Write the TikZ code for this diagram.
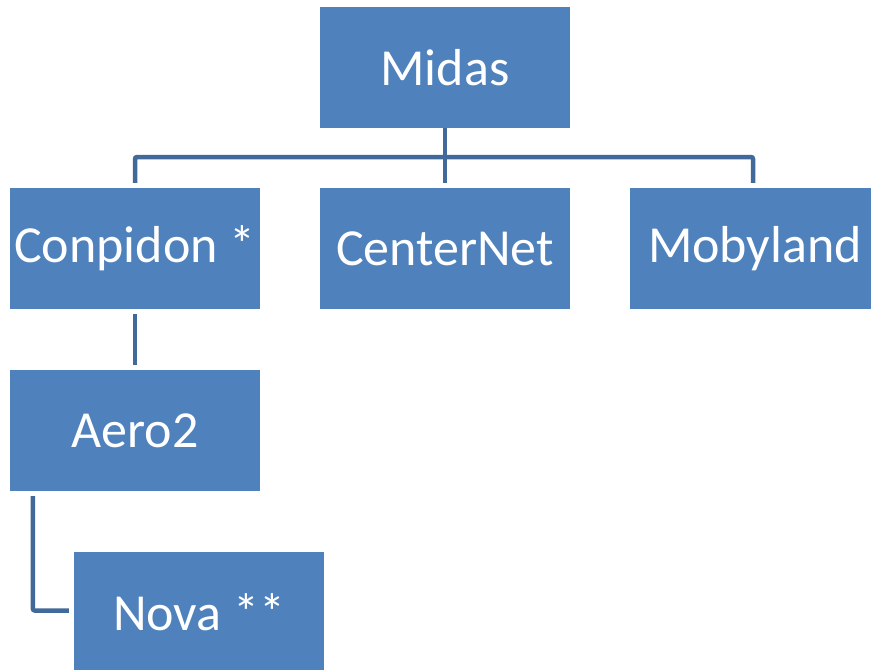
\documentclass[tikz,border=0pt]{standalone}
\usepackage{fontspec}
\setmainfont{Carlito}
\usetikzlibrary{calc}
\definecolor{boxfill}{HTML}{4F81BD}
\definecolor{linecol}{HTML}{41699A}
\begin{document}
\begin{tikzpicture}[x=1pt,y=-1pt,
  orgbox/.style={fill=boxfill,draw=none,minimum width=250pt,minimum height=121pt,inner sep=0pt,text=white,font=\fontsize{52}{60}\selectfont},
  conn/.style={draw=linecol,line width=4.5pt,rounded corners=2pt}]
\useasboundingbox (0,0) rectangle (871,670);
\node[orgbox] (midas) at (445,67.5) {Midas};
\node[orgbox] (conp) at (135,248.5) {Conpidon *};
\node[orgbox] (center) at (445,248.5) {CenterNet};
\node[orgbox] (moby) at (755,248.5) {Mobyland};
\node[orgbox] (aero) at (135,430.5) {Aero2};
\node[orgbox] (nova) at (199,612.5) {Nova **};
\coordinate (busl) at (135,157);
\coordinate (busr) at (753,157);
\draw[conn] ($(conp.north)+(0,-5)$) -- (busl) -- (busr) -- ($(moby.north)+(-2,-5)$);
\draw[conn] (midas.south) -- ($(center.north)+(0,-5)$);
\draw[conn] ($(conp.south)+(0,5)$) -- ($(aero.north)+(0,-5)$);
\draw[conn] ($(aero.south west)+(23,5)$) |- ($(nova.west)+(-5,-2)$);
\end{tikzpicture}
\end{document}
